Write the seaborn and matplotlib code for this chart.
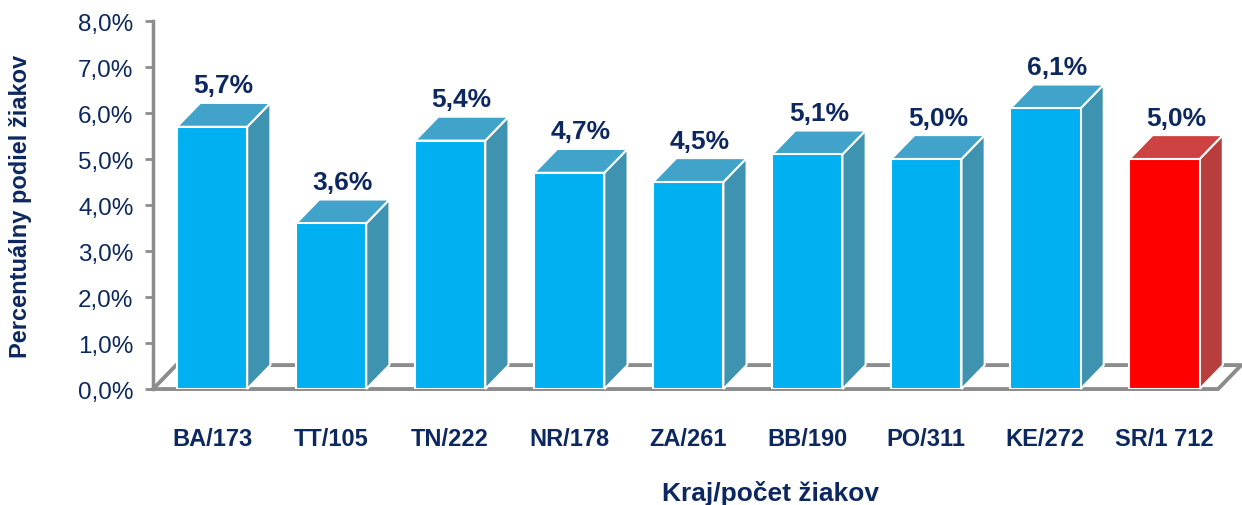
import numpy as np
import matplotlib
matplotlib.use("Agg")
import matplotlib.pyplot as plt
from matplotlib.patches import Polygon
import seaborn as sns

sns.set_theme(style="white")
plt.rcParams["font.family"] = ["Liberation Sans", "DejaVu Sans"]

# --- Daten ---
kraje = ["BA/173", "TT/105", "TN/222", "NR/178", "ZA/261", "BB/190", "PO/311", "KE/272", "SR/1 712"]
podiel = [5.7, 3.6, 5.4, 4.7, 4.5, 5.1, 5.0, 6.1, 5.0]
popisky = ["5,7%", "3,6%", "5,4%", "4,7%", "4,5%", "5,1%", "5,0%", "6,1%", "5,0%"]
y_ticks = [0, 1, 2, 3, 4, 5, 6, 7, 8]
y_tick_labels = ["0,0%", "1,0%", "2,0%", "3,0%", "4,0%", "5,0%", "6,0%", "7,0%", "8,0%"]

navy = "#0d2860"
grey = "#8c8c8c"
front = ["#00b0f0"] * 8 + ["#ff0000"]
top = ["#41a3c9"] * 8 + ["#cf4242"]
side = ["#3e93b0"] * 8 + ["#b83d3d"]

fig = plt.figure(figsize=(12.42, 5.06), dpi=100)
ax = fig.add_axes([0.1232, 0.2292, 0.8575, 0.7273])

# 3D-Versatz (in Datenkoordinaten)
dx, dy = 0.195, 0.52
x0, x1 = -0.496, 8.45

sns.barplot(x=kraje, y=podiel, hue=kraje, palette=front, width=0.59, saturation=1,
            edgecolor="white", linewidth=1.5, legend=False, ax=ax, zorder=4)
bars = list(ax.patches)

# Boden
floor = Polygon([(x0, 0), (x1, 0), (x1 + dx, dy), (x0 + dx, dy)], closed=True,
                fill=False, edgecolor=grey, linewidth=2.8, clip_on=False, zorder=1)
ax.add_patch(floor)

for i, p in enumerate(bars):
    xl = p.get_x()
    w = p.get_width()
    h = p.get_height()
    xr = xl + w
    s = Polygon([(xr, 0), (xr + dx, dy), (xr + dx, h + dy), (xr, h)], closed=True,
                facecolor=side[i], edgecolor="white", linewidth=1.5, zorder=3, clip_on=False)
    t = Polygon([(xl, h), (xr, h), (xr + dx, h + dy), (xl + dx, h + dy)], closed=True,
                facecolor=top[i], edgecolor="white", linewidth=1.5, zorder=3, clip_on=False)
    ax.add_patch(s)
    ax.add_patch(t)
    ax.text(xl + w / 2 + dx / 2, h + dy + 0.12, popisky[i], ha="center", va="bottom",
            fontsize=19, fontweight="bold", color=navy, zorder=5)

ax.set_xlim(x0, x1)
ax.set_ylim(0, 8)
ax.set_yticks(y_ticks)
ax.set_yticklabels(y_tick_labels, fontsize=17.5, color=navy)
ax.tick_params(axis="y", length=6, width=2, color=grey, left=True, pad=8)
ax.tick_params(axis="x", length=0, pad=27)
for lbl in ax.get_xticklabels():
    lbl.set_fontsize(17)
    lbl.set_fontweight("bold")
    lbl.set_color(navy)

for sp in ["top", "right", "bottom"]:
    ax.spines[sp].set_visible(False)
ax.spines["left"].set_color(grey)
ax.spines["left"].set_linewidth(2.5)

ax.set_ylabel("Percentuálny podiel žiakov", fontsize=17, fontweight="bold", color=navy)
ax.yaxis.label.set_va("center")
ax.yaxis.set_label_coords(-0.124, 0.5)
ax.set_xlabel("Kraj/počet žiakov", fontsize=19, fontweight="bold", color=navy)
ax.xaxis.label.set_va("center")
ax.xaxis.set_label_coords(0.58, -0.28)

fig.savefig("out.png", dpi=100)
